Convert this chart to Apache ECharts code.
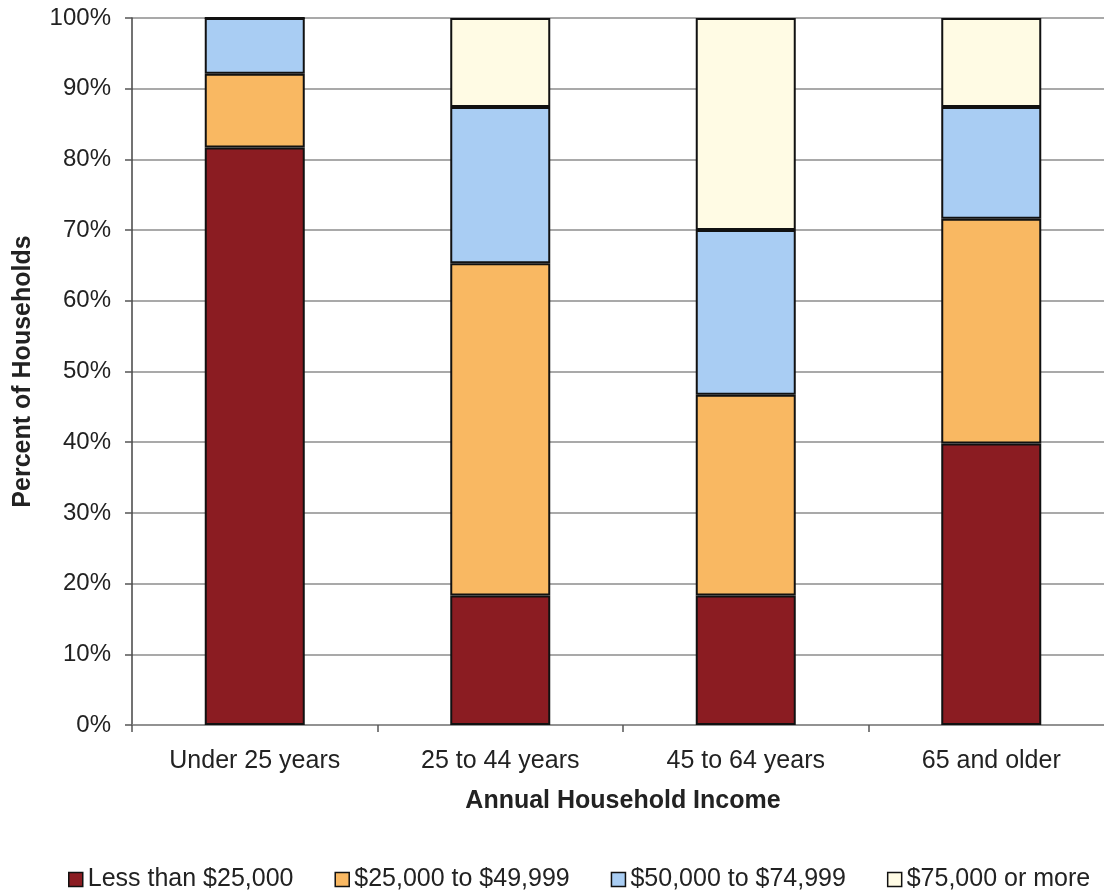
<!DOCTYPE html>
<html>
<head>
<meta charset="utf-8">
<title>Household Income by Age</title>
<script src="https://cdn.jsdelivr.net/npm/echarts@6/dist/echarts.min.js"></script>
<style>
  html, body { margin: 0; padding: 0; background: #ffffff; overflow: hidden; }
  #chart { width: 1120px; height: 890px; }
</style>
</head>
<body>
<div id="chart"></div>
<script>
// Age groups along the x axis
const categories = ['Under 25 years', '25 to 44 years', '45 to 64 years', '65 and older'];

// Share of households (%) in each income bracket, per age group
const lessThan25k = [81.7, 18.3, 18.3, 39.8];
const from25kTo50k = [10.4, 47.0, 28.4, 31.8];
const from50kTo75k = [7.9, 22.1, 23.3, 15.8];
const over75k = [0, 12.6, 30.0, 12.6];

const seriesNames = ['Less than $25,000', '$25,000 to $49,999', '$50,000 to $74,999', '$75,000 or more'];
const seriesColors = ['#8b1c22', '#f9b862', '#a9cdf3', '#fffbe4'];
const seriesValues = [lessThan25k, from25kTo50k, from50kTo75k, over75k];

const FONT = '"Liberation Sans", Arial, Helvetica, sans-serif';

const chart = echarts.init(document.getElementById('chart'), null, { renderer: 'canvas' });

chart.setOption({
  backgroundColor: '#ffffff',
  animation: false,
  textStyle: { fontFamily: FONT, color: '#222' },
  // plot area runs slightly past the visible page on the right
  grid: { left: 132, right: 6, top: 18, bottom: 165, containLabel: false },
  legend: {
    left: 63,
    top: 862,
    itemGap: 41,
    itemWidth: 14,
    itemHeight: 14,
    icon: 'rect',
    textStyle: { fontSize: 25, fontFamily: FONT, color: '#222' },
    data: seriesNames.map((n, i) => ({
      name: n,
      itemStyle: { color: seriesColors[i], borderColor: '#111', borderWidth: 1.5 }
    }))
  },
  xAxis: {
    type: 'category',
    data: categories,
    name: 'Annual Household Income',
    nameLocation: 'middle',
    nameGap: 64,
    nameTextStyle: { fontSize: 25, fontWeight: 'bold', fontFamily: FONT, color: '#222' },
    axisLine: { lineStyle: { color: '#8a8a8a', width: 1.5 } },
    axisTick: { show: true, length: 7, lineStyle: { color: '#555', width: 1.5 } },
    axisLabel: { fontSize: 25, margin: 24, color: '#222', fontFamily: FONT }
  },
  yAxis: {
    type: 'value',
    min: 0,
    max: 100,
    interval: 10,
    name: 'Percent of Households',
    nameLocation: 'middle',
    nameGap: 96,
    nameTextStyle: { fontSize: 25, fontWeight: 'bold', fontFamily: FONT, color: '#222' },
    axisLine: { show: true, lineStyle: { color: '#444', width: 1.5 } },
    axisTick: { show: true, length: 7, lineStyle: { color: '#555', width: 1.5 } },
    axisLabel: { fontSize: 24, margin: 21, color: '#222', fontFamily: FONT, formatter: '{value}%' },
    splitLine: { show: true, lineStyle: { color: '#8c8c8c', width: 1.5 } }
  },
  series: seriesValues.map((vals, i) => ({
    name: seriesNames[i],
    type: 'bar',
    stack: 'income',
    barWidth: 100,
    data: vals,
    itemStyle: { color: seriesColors[i], borderColor: '#111', borderWidth: 2 }
  }))
});
</script>
</body>
</html>
